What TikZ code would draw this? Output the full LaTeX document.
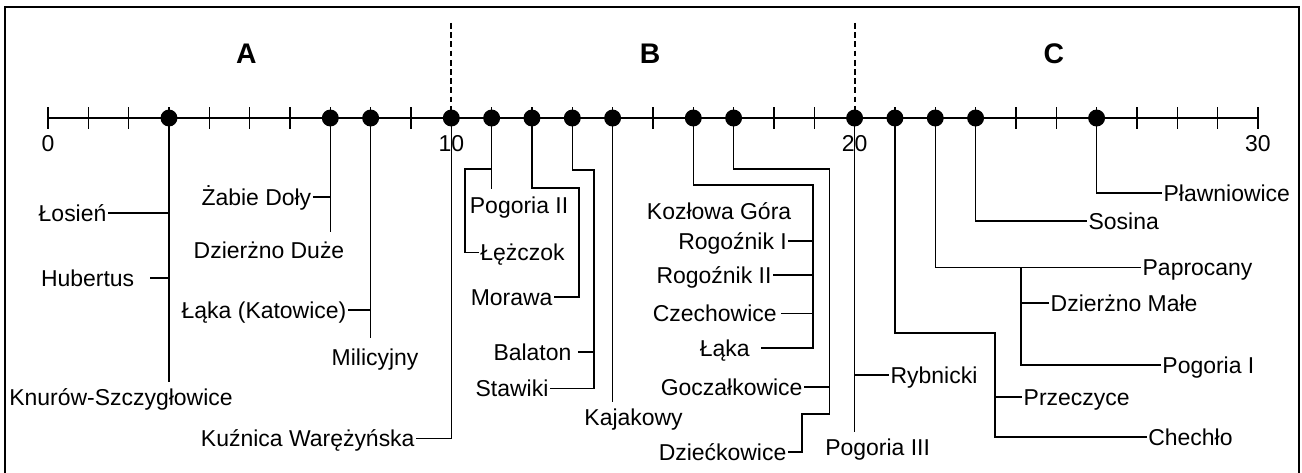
\documentclass[tikz,border=0pt]{standalone}
\usepackage{fontspec}
\setmainfont{Liberation Sans}
\usetikzlibrary{positioning}

\begin{document}
\begin{tikzpicture}[
  wire/.style={line width=1pt},
  dot/.style={circle, fill, inner sep=0pt, minimum size=0.42cm},
  lbl/.style={font=\fontsize{16.2}{19}\selectfont, inner sep=1pt, text height=11.6pt, text depth=0pt},
]
\useasboundingbox (-1.19,-8.778) rectangle (31.093,2.926);
% frame
\draw[line width=2pt] (-1.066,-8.9) -- (-1.066,2.752) -- (31.02,2.752) -- (31.02,-8.9);
% zones
\foreach \x in {10,20}
  \draw[line width=1.3pt, dash pattern=on 4pt off 2.5pt] (\x,2.356) -- (\x,0);
\foreach \x/\lab in {4.92/A, 14.93/B, 24.94/C}
  \node[font=\fontsize{20}{24}\selectfont\bfseries] (zone\lab) at (\x,1.59) {\lab};
% axis
\draw[line width=1.2pt] (0,0) -- (30,0);
\foreach \x in {0,...,30}
  \draw[wire] (\x,-0.27) -- (\x,0.27);
\foreach \x in {0,10,20,30}
  \node[lbl] (n\x) at (\x,-0.62) {\x};
\foreach \x in {3,7,8,10,11,12,13,14,16,17,20,21,22,23,26}
  \node[dot] (d\x) at (\x,0) {};

% zone A
\node[lbl, anchor=east] (los) at (1.49,-2.36) {Łosień};
\node[lbl, anchor=east] (hub) at (2.18,-3.97) {Hubertus};
\node[lbl] (knur) at (1.81,-6.92) {Knurów-Szczygłowice};
\node[lbl, anchor=east] (zab) at (6.57,-1.96) {Żabie Doły};
\node[lbl] (dzd) at (5.48,-3.27) {Dzierżno Duże};
\node[lbl, anchor=east] (laka) at (7.44,-4.76) {Łąka (Katowice)};
\node[lbl] (mil) at (8.11,-5.93) {Milicyjny};
\node[lbl, anchor=east] (kuz) at (9.13,-7.94) {Kuźnica Warężyńska};
\coordinate (e3) at (3,-6.55);
\coordinate (e7) at (7,-2.83);
\coordinate (e8) at (8,-5.46);
\draw[wire] (d3) -- (e3);
\draw[wire] (los.east) -- (los.east -| d3);
\draw[wire] ([xshift=0.35cm]hub.east) -- (hub.east -| d3);
\draw[wire] (d7) -- (e7);
\draw[wire] (zab.east) -- (zab.east -| d7);
\draw[wire] (d8) -- (e8);
\draw[wire] (laka.east) -- (laka.east -| d8);
\draw[wire] (d10) |- (kuz.east);

% zone B
\node[lbl] (pog2) at (11.68,-2.16) {Pogoria II};
\node[lbl, anchor=west] (lez) at (10.68,-3.33) {Łężczok};
\node[lbl, anchor=east] (mor) at (12.55,-4.44) {Morawa};
\node[lbl, anchor=east] (bal) at (13.02,-5.80) {Balaton};
\node[lbl, anchor=east] (sta) at (12.45,-6.70) {Stawiki};
\node[lbl] (kaj) at (14.52,-7.41) {Kajakowy};
\node[lbl] (koz) at (16.64,-2.31) {Kozłowa Góra};
\node[lbl, anchor=east] (rog1) at (18.36,-3.05) {Rogoźnik I};
\node[lbl, anchor=east] (rog2) at (17.98,-3.89) {Rogoźnik II};
\node[lbl, anchor=east] (cze) at (18.11,-4.84) {Czechowice};
\node[lbl, anchor=east] (lk) at (17.44,-5.70) {Łąka};
\node[lbl, anchor=east] (goc) at (18.75,-6.67) {Goczałkowice};
\node[lbl, anchor=east] (dzi) at (18.35,-8.28) {Dziećkowice};
\coordinate (e11) at (11,-1.76);
\coordinate (b11) at (11,-1.265);
\coordinate (c11) at (10.34,-1.265);
\coordinate (c12) at (13.17,-1.74);
\coordinate (c13) at (13.54,-1.29);
\coordinate (e14) at (14,-7.04);
\coordinate (c16) at (18.97,-1.66);
\coordinate (c17) at (19.37,-1.265);
\coordinate (f17) at (18.70,-7.34);
\draw[wire] (d11) -- (e11);
\draw[wire] (b11) -- (c11) |- (lez.west);
\draw[wire] (d12) |- (c12) |- (mor.east);
\draw[wire] (d13) |- (c13) |- (sta.east);
\draw[wire] ([xshift=0.12cm]bal.east) -- (bal.east -| c13);
\draw[wire] (d14) -- (e14);
\draw[wire] (d16) |- (c16) |- ([xshift=0.24cm]lk.east);
\draw[wire] (rog1.east) -- (rog1.east -| c16);
\draw[wire] (rog2.east) -- (rog2.east -| c16);
\draw[wire] ([xshift=0.07cm]cze.east) -- (cze.east -| c16);
\draw[wire] (d17) |- (c17) |- (f17) |- (dzi.east);
\draw[wire] (goc.east) -- (goc.east -| c17);

% zone C
\node[lbl, anchor=west] (ryb) at (20.85,-6.37) {Rybnicki};
\node[lbl] (pog3) at (20.57,-8.16) {Pogoria III};
\node[lbl, anchor=west] (prz) at (24.15,-6.92) {Przeczyce};
\node[lbl, anchor=west] (che) at (27.24,-7.91) {Chechło};
\node[lbl, anchor=west] (pap) at (27.10,-3.70) {Paprocany};
\node[lbl, anchor=west] (dzm) at (24.82,-4.59) {Dzierżno Małe};
\node[lbl, anchor=west] (pog1) at (27.59,-6.12) {Pogoria I};
\node[lbl, anchor=west] (sos) at (25.76,-2.55) {Sosina};
\node[lbl, anchor=west] (plaw) at (27.62,-1.86) {Pławniowice};
\coordinate (e20) at (20,-7.79);
\coordinate (c21) at (23.48,-5.33);
\coordinate (c22) at (24.13,-3.70);
\draw[wire] (d20) -- (e20);
\draw[wire] (ryb.west) -- (ryb.west -| d20);
\draw[wire] (d21) |- (c21) |- (che.west);
\draw[wire] (prz.west) -- (prz.west -| c21);
\draw[wire] (d22) |- (pap.west);
\draw[wire] (c22) |- (pog1.west);
\draw[wire] (dzm.west) -- (dzm.west -| c22);
\draw[wire] (d23) |- (sos.west);
\draw[wire] (d26) |- (plaw.west);
\end{tikzpicture}
\end{document}
